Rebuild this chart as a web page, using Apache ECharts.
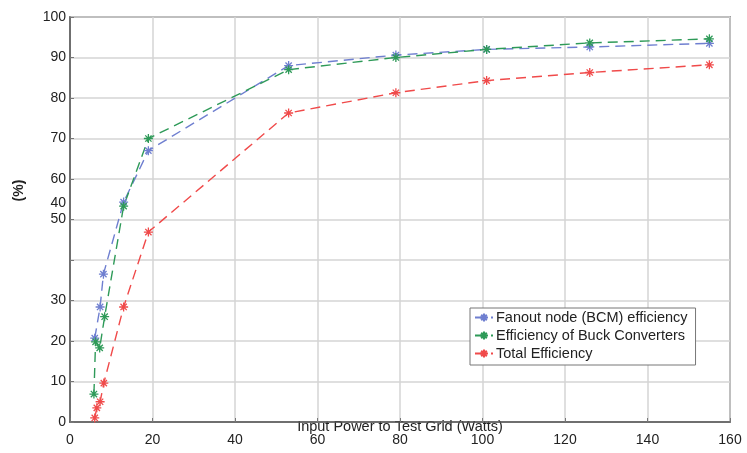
<!DOCTYPE html>
<html>
<head>
<meta charset="utf-8">
<script src="https://cdn.jsdelivr.net/npm/echarts@6/dist/echarts.min.js"></script>
<style>
html, body { margin: 0; padding: 0; background: #fff; }
#main { width: 747px; height: 453px; }
</style>
</head>
<body>
<div id="main"></div>
<script>
// data: [input power (W), efficiency (%)]
var seriesNames = ["Fanout node (BCM) efficiency", "Efficiency of Buck Converters", "Total Efficiency"];
var fanoutData = [[6, 20.7], [7.3, 28.4], [8.1, 36.5], [13, 54.3], [19, 67], [53, 88], [79, 90.6], [101, 92], [126, 92.6], [155, 93.5]];
var buckData = [[5.8, 6.9], [6.2, 19.8], [7.2, 18.3], [8.4, 26], [13, 53.3], [19, 70], [53, 87], [79, 90], [101, 92], [126, 93.6], [155, 94.6]];
var totalData = [[6, 1], [6.5, 3.5], [7.3, 5], [8.2, 9.6], [13, 28.4], [19, 46.9], [53, 76.3], [79, 81.3], [101, 84.3], [126, 86.3], [155, 88.2]];
var colors = ["#6f7fd0", "#2e9a58", "#f04a4a"];
var xTicks = { min: 0, max: 160, interval: 20 };
var yTicks = { min: 0, max: 100, interval: 10 };
var strayLabel = { text: "40", value: 54 }; // the "40" tick label sits misplaced between 50 and 60

var star = "path://M5,0L5,10M0,5L10,5M1.5,1.5L8.5,8.5M1.5,8.5L8.5,1.5";
var font = "Liberation Sans, Arial, sans-serif";

function makeSeries(name, data, color) {
    return {
        name: name,
        type: "line",
        data: data,
        symbol: star,
        symbolSize: 9,
        showSymbol: true,
        itemStyle: { color: color, borderColor: color, borderWidth: 1.3 },
        lineStyle: { color: color, width: 1.4, type: [10, 6] },
        emphasis: { disabled: true }
    };
}

var chart = echarts.init(document.getElementById("main"));
chart.setOption({
    backgroundColor: "#fff",
    animation: false,
    textStyle: { fontFamily: font },
    grid: {
        left: 70, right: 17, top: 17, bottom: 31,
        outerBoundsMode: "none",
        show: true, borderColor: "#555", borderWidth: 1.5
    },
    legend: {
        data: seriesNames,
        orient: "vertical",
        left: 470, top: 308,
        itemWidth: 18, itemHeight: 10, itemGap: 3,
        padding: [2, 8, 4, 4],
        borderColor: "#777", borderWidth: 1,
        backgroundColor: "#fff",
        textStyle: { color: "#222", fontSize: 14.5, padding: [0, 0, 0, -2] }
    },
    xAxis: {
        type: "value",
        min: xTicks.min, max: xTicks.max, interval: xTicks.interval,
        name: "Input Power to Test Grid (Watts)",
        nameLocation: "middle",
        nameGap: -3,
        nameMoveOverlap: false,
        nameTextStyle: { color: "#222", fontSize: 14.5, verticalAlign: "top" },
        axisLine: { lineStyle: { color: "#555", width: 1.5 } },
        axisTick: { inside: true, length: 4, lineStyle: { color: "#777" } },
        axisLabel: { color: "#222", fontSize: 14, margin: 11 },
        splitLine: { lineStyle: { color: "#d4d4d4", width: 1.5 } }
    },
    yAxis: {
        type: "value",
        min: yTicks.min, max: yTicks.max, interval: yTicks.interval,
        name: "(%)",
        nameLocation: "middle",
        nameGap: 44,
        nameRotate: 90,
        nameMoveOverlap: false,
        nameTextStyle: { color: "#222", fontSize: 14, fontWeight: "bold", padding: [0, 0, 0, 58] },
        axisLine: { lineStyle: { color: "#555", width: 1.5 } },
        axisTick: { inside: true, length: 4, lineStyle: { color: "#777" } },
        axisLabel: {
            color: "#222", fontSize: 14, margin: 4,
            formatter: function (v) { return v === 40 ? "" : v; }
        },
        splitLine: { lineStyle: { color: "#d4d4d4", width: 1.5 } }
    },
    series: [
        makeSeries(seriesNames[0], fanoutData, colors[0]),
        makeSeries(seriesNames[1], buckData, colors[1]),
        makeSeries(seriesNames[2], totalData, colors[2])
    ]
});

// the stray "40" label, placed through the y axis scale
var p = chart.convertToPixel({ xAxisIndex: 0, yAxisIndex: 0 }, [0, strayLabel.value]);
chart.setOption({
    graphic: [{
        type: "text",
        x: p[0] - 4, y: p[1],
        style: {
            text: strayLabel.text, fill: "#222", fontSize: 14,
            fontFamily: font,
            align: "right", verticalAlign: "middle"
        }
    }]
});
</script>
</body>
</html>
